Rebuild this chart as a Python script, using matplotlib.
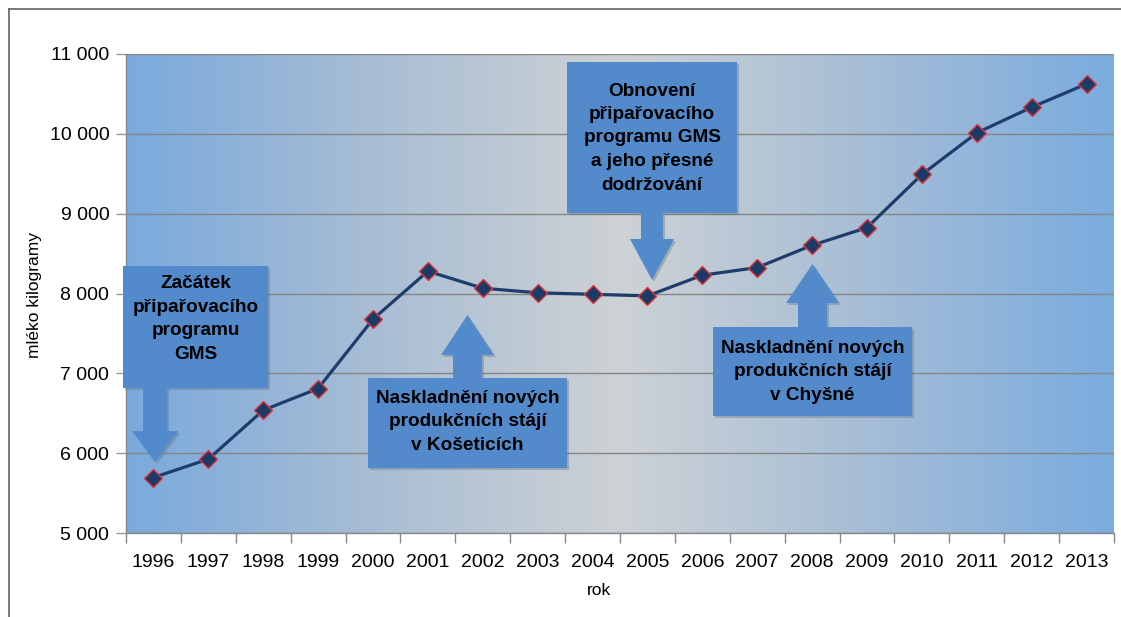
import matplotlib
matplotlib.use("Agg")
import matplotlib.pyplot as plt
import numpy as np
from matplotlib.patches import Polygon
from matplotlib.lines import Line2D
from matplotlib.colors import LinearSegmentedColormap

plt.rcParams['font.family'] = ['Liberation Sans', 'DejaVu Sans']

years = [str(y) for y in range(1996, 2014)]
milk_kg = [5695, 5925, 6538, 6810, 7679, 8279, 8066, 8009, 7990, 7970,
           8229, 8325, 8604, 8825, 9491, 10012, 10333, 10625]
y_ticks = [5000, 6000, 7000, 8000, 9000, 10000, 11000]
y_tick_labels = ["5 000", "6 000", "7 000", "8 000", "9 000", "10 000", "11 000"]
x_label = "rok"
y_label = "mléko kilogramy"

W, H = 1121, 617
fig = plt.figure(figsize=(W / 100, H / 100), dpi=100)
L, R, T, B = 126, 1114, 54, 533
ax = fig.add_axes([L / W, 1 - B / H, (R - L) / W, (B - T) / H])

x = np.arange(len(years))
ax.set_xlim(-0.5, len(years) - 0.5)
ax.set_ylim(5000, 11000)

# background gradient
cmap = LinearSegmentedColormap.from_list(
    "bg", ["#7AAADD", "#A8BDD4", "#CDD2D5", "#A6BDD6", "#7AACDF"])
grad = np.linspace(0, 1, 256).reshape(1, -1)
ax.imshow(grad, extent=[-0.5, len(years) - 0.5, 5000, 11000], aspect='auto',
          cmap=cmap, zorder=0)

ax.set_yticks(y_ticks)
ax.set_yticklabels(y_tick_labels)
ax.yaxis.grid(True, color='#858585', linewidth=1.0, zorder=1)
ax.set_axisbelow(False)
ax.set_xticks(x)
ax.set_xticklabels(years)
ax.set_xticks(np.arange(-0.5, len(years)), minor=True)
ax.tick_params(axis='x', which='major', length=0, pad=15, labelsize=14)
ax.tick_params(axis='x', which='minor', length=7, color='#888888', width=1)
ax.tick_params(axis='y', length=7, color='#999999', width=1, pad=5, labelsize=14)
for s in ['top', 'right']:
    ax.spines[s].set_visible(False)
for s in ['left', 'bottom']:
    ax.spines[s].set_color('#888888')
    ax.spines[s].set_linewidth(1)

ax.plot(x, milk_kg, color='#1E3D6C', linewidth=2.3, marker='D', markersize=9,
        markerfacecolor='#1B3A66', markeredgecolor='#E0353A', markeredgewidth=1,
        zorder=5)

ax.set_xlabel(x_label, fontsize=12.5)
ax.set_ylabel(y_label, fontsize=12.5)
ax.xaxis.set_label_coords((599 - L) / (R - L), -(583 - B) / (B - T))
ax.yaxis.set_label_coords(-(126 - 42) / (R - L), (B - 295) / (B - T))

# outer frame (cropped)
fig.add_artist(Line2D([9 / W, 1], [1 - 9 / H, 1 - 9 / H], color='#6e6e6e', lw=1.3,
                      transform=fig.transFigure))
fig.add_artist(Line2D([9 / W, 9 / W], [0, 1 - 9 / H], color='#6e6e6e', lw=1.3,
                      transform=fig.transFigure))

box_color = '#528ACB'


def px(pts):
    return [(a / W, 1 - b / H) for a, b in pts]


def callout(box, stem, head, tip_y, text, text_y, down=True):
    x0, y0, x1, y1 = box
    s0, s1 = stem
    h0, h1 = head
    cx = (h0 + h1) / 2
    hy, ty = tip_y
    if down:
        pts = [(x0, y0), (x1, y0), (x1, y1), (s1, y1), (s1, hy), (h1, hy),
               (cx, ty), (h0, hy), (s0, hy), (s0, y1), (x0, y1)]
    else:
        pts = [(x0, y1), (x1, y1), (x1, y0), (s1, y0), (s1, hy), (h1, hy),
               (cx, ty), (h0, hy), (s0, hy), (s0, y0), (x0, y0)]
    shadow = Polygon(px([(a + 2, b + 2) for a, b in pts]), closed=True,
                     transform=fig.transFigure, facecolor='#5a6a7a', alpha=0.35,
                     edgecolor='none', zorder=6)
    fig.add_artist(shadow)
    poly = Polygon(px(pts), closed=True, transform=fig.transFigure,
                   facecolor=box_color, edgecolor='none', zorder=7)
    fig.add_artist(poly)
    fig.text((x0 + x1) / 2 / W, 1 - text_y / H, text, ha='center', va='center',
             fontsize=13.7, fontweight='bold', color='black', linespacing=1.5,
             zorder=8)


callout((123, 266, 268, 388), (143, 167), (132, 178), (431, 462),
        "Začátek\npřipařovacího\nprogramu\nGMS", 319, down=True)
callout((368, 378, 567, 468), (453, 482), (441, 494), (355, 315),
        "Naskladnění nových\nprodukčních stájí\nv Košeticích", 422, down=False)
callout((567, 62, 737, 213), (641, 663), (630, 674), (239, 280),
        "Obnovení\npřipařovacího\nprogramu GMS\na jeho přesné\ndodržování", 138, down=True)
callout((713, 327, 912, 416), (798, 827), (786, 839), (303, 264),
        "Naskladnění nových\nprodukčních stájí\nv Chyšné", 372, down=False)

fig.savefig("out.png", dpi=100)
